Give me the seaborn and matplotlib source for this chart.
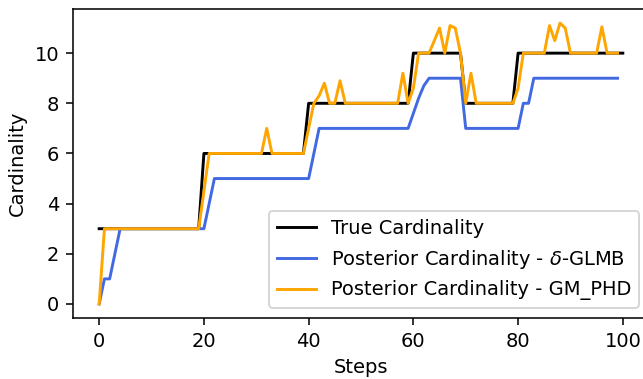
import numpy as np
import pandas as pd
import seaborn as sns
import matplotlib.pyplot as plt

# True cardinality, steps 0..100
true_card = [3, 3, 3, 3, 3, 3, 3, 3, 3, 3, 3, 3, 3, 3, 3, 3, 3, 3, 3, 3,
             6, 6, 6, 6, 6, 6, 6, 6, 6, 6, 6, 6, 6, 6, 6, 6, 6, 6, 6, 6,
             8, 8, 8, 8, 8, 8, 8, 8, 8, 8, 8, 8, 8, 8, 8, 8, 8, 8, 8, 8,
             10, 10, 10, 10, 10, 10, 10, 10, 10, 10,
             8, 8, 8, 8, 8, 8, 8, 8, 8, 8,
             10, 10, 10, 10, 10, 10, 10, 10, 10, 10, 10, 10, 10, 10, 10, 10,
             10, 10, 10, 10, 10]

# Posterior cardinality, delta-GLMB, steps 0..99
glmb_card = [0, 1, 1, 2, 3, 3, 3, 3, 3, 3, 3, 3, 3, 3, 3, 3, 3, 3, 3, 3,
             3, 4, 5, 5, 5, 5, 5, 5, 5, 5, 5, 5, 5, 5, 5, 5, 5, 5, 5, 5,
             5, 6, 7, 7, 7, 7, 7, 7, 7, 7, 7, 7, 7, 7, 7, 7, 7, 7, 7, 7,
             7.6, 8.2, 8.7, 9, 9, 9, 9, 9, 9, 9,
             7, 7, 7, 7, 7, 7, 7, 7, 7, 7,
             7, 8, 8, 9, 9, 9, 9, 9, 9, 9, 9, 9, 9, 9, 9, 9, 9, 9, 9, 9]

# Posterior cardinality, GM-PHD, steps 0..99
phd_card = [0, 3, 3, 3, 3, 3, 3, 3, 3, 3, 3, 3, 3, 3, 3, 3, 3, 3, 3, 3,
            4.5, 6, 6, 6, 6, 6, 6, 6, 6, 6, 6, 6, 7, 6, 6, 6, 6, 6, 6, 6,
            7, 8, 8.3, 8.8, 8, 8, 8.9, 8, 8, 8, 8, 8, 8, 8, 8, 8, 8, 8, 9.2, 8,
            8.6, 10, 10, 10, 10.5, 11.0, 10.0, 11.1, 11.0, 10,
            8, 9.2, 8, 8, 8, 8, 8, 8, 8, 8,
            8.6, 10, 10, 10, 10, 10, 11.1, 10.5, 11.2, 11.0, 10, 10, 10, 10, 10, 10,
            11.05, 10, 10, 10]

steps_true = np.arange(len(true_card))
steps_est = np.arange(len(phd_card))

dpi = 140
fig = plt.figure(figsize=(643 / dpi, 379 / dpi), dpi=dpi)
ax = fig.add_axes([73 / 643, 61 / 379, 576 / 643, 309 / 379])

sns.lineplot(x=steps_true, y=true_card, color="black", label="True Cardinality", ax=ax)
sns.lineplot(x=steps_est, y=glmb_card, color="royalblue",
             label=r"Posterior Cardinality - $\delta$-GLMB", ax=ax)
sns.lineplot(x=steps_est, y=phd_card, color="orange",
             label="Posterior Cardinality - GM_PHD", ax=ax)

ax.set_xlabel("Steps")
ax.set_ylabel("Cardinality")
ax.set_xticks([0, 20, 40, 60, 80, 100])
ax.set_yticks([0, 2, 4, 6, 8, 10])
ax.legend(loc="lower right")

fig.savefig("out.png", dpi=dpi)
